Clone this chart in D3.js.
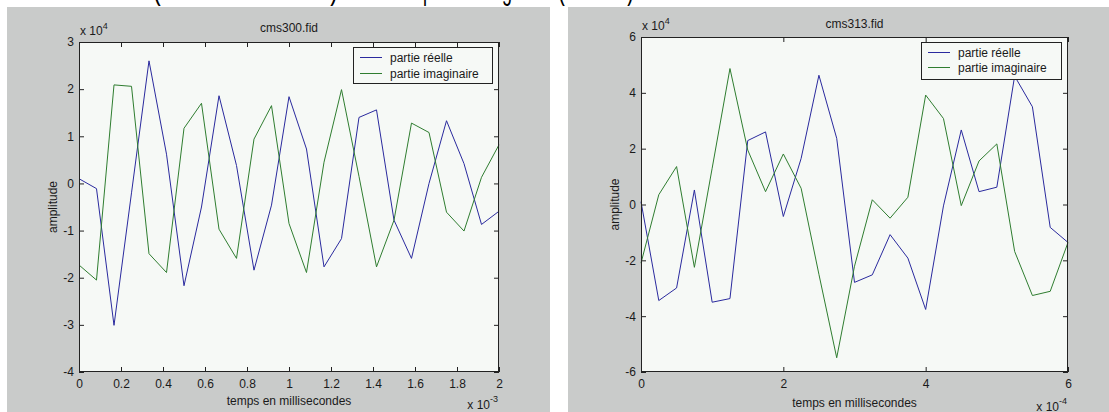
<!DOCTYPE html>
<html>
<head>
<meta charset="utf-8">
<script src="https://cdn.jsdelivr.net/npm/d3@7"></script>
<style>
  html, body { margin: 0; padding: 0; background: #ffffff; overflow: hidden; }
  svg { display: block; }
  text { font-family: "Liberation Sans", Arial, sans-serif; fill: #1a1a1a; }
</style>
</head>
<body>
<svg id="fig" width="1109" height="412"></svg>
<script>
// ---- cms300.fid : time axis in units of 1e-3 s, amplitude in units of 1e4
const timeA = [0, 0.0833, 0.1667, 0.25, 0.3333, 0.4167, 0.5, 0.5833, 0.6667, 0.75, 0.8333, 0.9167,
  1, 1.0833, 1.1667, 1.25, 1.3333, 1.4167, 1.5, 1.5833, 1.6667, 1.75, 1.8333, 1.9167, 2];
const realA = [0.10, -0.11, -3.01, -0.2, 2.60, 0.62, -2.17, -0.5, 1.86, 0.38, -1.84, -0.46,
  1.84, 0.73, -1.77, -1.17, 1.40, 1.56, -0.78, -1.59, 0.0, 1.33, 0.42, -0.87, -0.59];
const imagA = [-1.73, -2.05, 2.09, 2.06, -1.49, -1.89, 1.17, 1.70, -0.97, -1.59, 0.94, 1.65,
  -0.85, -1.89, 0.45, 1.99, 0.15, -1.77, -0.78, 1.28, 1.08, -0.61, -1.01, 0.13, 0.82];
const xTicksA = [0, 0.2, 0.4, 0.6, 0.8, 1, 1.2, 1.4, 1.6, 1.8, 2];
const yTicksA = [-4, -3, -2, -1, 0, 1, 2, 3];

// ---- cms313.fid : time axis in units of 1e-4 s, amplitude in units of 1e4
const timeB = [0, 0.25, 0.5, 0.75, 1, 1.25, 1.5, 1.75, 2, 2.25, 2.5, 2.75,
  3, 3.25, 3.5, 3.75, 4, 4.25, 4.5, 4.75, 5, 5.25, 5.5, 5.75, 6];
const realB = [0.10, -3.44, -2.99, 0.52, -3.50, -3.37, 2.29, 2.60, -0.43, 1.65, 4.63, 2.37,
  -2.79, -2.52, -1.08, -1.92, -3.76, -0.05, 2.67, 0.46, 0.62, 4.60, 3.50, -0.82, -1.36];
const imagB = [-2.10, 0.35, 1.36, -2.25, 1.30, 4.87, 1.95, 0.46, 1.81, 0.58, -2.50, -5.49,
  -2.21, 0.17, -0.49, 0.26, 3.92, 3.08, -0.04, 1.56, 2.17, -1.68, -3.26, -3.11, -1.36];
const xTicksB = [0, 2, 4, 6];
const yTicksB = [-6, -4, -2, 0, 2, 4, 6];

const legendLabels = ["partie réelle", "partie imaginaire"];
const xLabel = "temps en millisecondes";
const yLabel = "amplitude";

const COLORS = { real: "#2a2a9e", imag: "#2f7d30", bg: "#c9cbca", plot: "#f6f9f6", frame: "#222" };

const svg = d3.select("#fig");

// caption line above the figures; only its descenders fall inside the page
const capParts = [
  { t: "(trait continu bleu)", x: 153, len: 185 },
  { t: "et la", x: 372, len: 40 },
  { t: "partie imaginaire", x: 423, len: 133 },
  { t: "(en vert)", x: 558, len: 76 }
];
const cap = svg.append("g").attr("class", "caption")
  .attr("transform", "translate(0,-1) scale(1,1.75)");
capParts.forEach(s => {
  cap.append("text").attr("x", s.x).attr("y", 0).text(s.t)
    .style("font-size", "18px").style("fill", "#000")
    .attr("textLength", s.len).attr("lengthAdjust", "spacingAndGlyphs");
});

function panel(cfg) {
  const g = svg.append("g");
  g.append("rect").attr("x", cfg.bg[0]).attr("y", cfg.bg[1])
    .attr("width", cfg.bg[2]).attr("height", cfg.bg[3]).attr("fill", COLORS.bg);

  const x = d3.scaleLinear().domain(cfg.xDomain).range([cfg.box.l, cfg.box.r]);
  const y = d3.scaleLinear().domain(cfg.yDomain).range([cfg.box.b, cfg.box.t]);

  g.append("rect").attr("x", cfg.box.l).attr("y", cfg.box.t)
    .attr("width", cfg.box.r - cfg.box.l).attr("height", cfg.box.b - cfg.box.t)
    .attr("fill", COLORS.plot);

  const fmt = d => String(d);
  const axB = g.append("g").attr("transform", `translate(0,${cfg.box.b})`)
    .call(d3.axisBottom(x).tickValues(cfg.xTicks).tickFormat(fmt).tickSizeInner(-5).tickSizeOuter(0).tickPadding(7));
  const axT = g.append("g").attr("transform", `translate(0,${cfg.box.t})`)
    .call(d3.axisTop(x).tickValues(cfg.xTicks).tickFormat("").tickSizeInner(-5).tickSizeOuter(0));
  const axL = g.append("g").attr("transform", `translate(${cfg.box.l},0)`)
    .call(d3.axisLeft(y).tickValues(cfg.yTicks).tickFormat(fmt).tickSizeInner(-5).tickSizeOuter(0).tickPadding(5));
  const axR = g.append("g").attr("transform", `translate(${cfg.box.r},0)`)
    .call(d3.axisRight(y).tickValues(cfg.yTicks).tickFormat("").tickSizeInner(-5).tickSizeOuter(0));
  [axB, axT, axL, axR].forEach(a => {
    a.select(".domain").remove();
    a.selectAll(".tick line").attr("stroke", COLORS.frame);
    a.selectAll(".tick text").style("font-size", "12px").style("font-family", "'Liberation Sans', Arial, sans-serif").attr("fill", "#1a1a1a");
  });

  const line = d3.line().x(d => x(d[0])).y(d => y(d[1]));
  const seriesReal = cfg.time.map((t, i) => [t, cfg.real[i]]);
  const seriesImag = cfg.time.map((t, i) => [t, cfg.imag[i]]);
  g.append("path").datum(seriesReal).attr("d", line)
    .attr("fill", "none").attr("stroke", COLORS.real).attr("stroke-width", 1);
  g.append("path").datum(seriesImag).attr("d", line)
    .attr("fill", "none").attr("stroke", COLORS.imag).attr("stroke-width", 1);

  // axes box
  g.append("rect").attr("x", cfg.box.l + 0.5).attr("y", cfg.box.t + 0.5)
    .attr("width", cfg.box.r - cfg.box.l - 1).attr("height", cfg.box.b - cfg.box.t - 1)
    .attr("fill", "none").attr("stroke", COLORS.frame).attr("stroke-width", 1);

  // legend
  const L = cfg.legend;
  const lg = g.append("g");
  lg.append("rect").attr("x", L.x + 0.5).attr("y", L.y + 0.5).attr("width", L.w).attr("height", L.h)
    .attr("fill", COLORS.plot).attr("stroke", COLORS.frame);
  [COLORS.real, COLORS.imag].forEach((c, i) => {
    const ly = L.y + 10.5 + i * L.gap;
    lg.append("line").attr("x1", L.x + 7).attr("x2", L.x + 29).attr("y1", ly).attr("y2", ly)
      .attr("stroke", c).attr("stroke-width", 1);
    lg.append("text").attr("x", L.x + 37).attr("y", ly + 4).style("font-size", "12px")
      .text(legendLabels[i]);
  });

  const cx = (cfg.box.l + cfg.box.r) / 2;
  const cy = (cfg.box.t + cfg.box.b) / 2;
  g.append("text").attr("x", cx).attr("y", cfg.titleY).attr("text-anchor", "middle")
    .style("font-size", "12px").text(cfg.title);
  g.append("text").attr("x", cx).attr("y", cfg.xLabelY).attr("text-anchor", "middle")
    .style("font-size", "12px").text(xLabel);
  g.append("text").attr("transform", `translate(${cfg.yLabelX},${cy}) rotate(-90)`)
    .attr("text-anchor", "middle").style("font-size", "12px").text(yLabel);

  // exponent notes
  const e1 = g.append("text").attr("x", cfg.box.l + 1).attr("y", cfg.expTopY).style("font-size", "12px");
  e1.append("tspan").text("x 10");
  e1.append("tspan").attr("dy", -6).style("font-size", "9px").text(cfg.expY);
  const e2 = g.append("text").attr("x", cfg.box.r - 1).attr("y", cfg.expBotY).attr("text-anchor", "end").style("font-size", "12px");
  e2.append("tspan").text("x 10");
  e2.append("tspan").attr("dy", -7).style("font-size", "9px").text(cfg.expX);
}

panel({
  bg: [7, 7, 543, 405],
  box: { l: 79, r: 499, t: 42, b: 372 },
  xDomain: [0, 2], yDomain: [-4, 3],
  xTicks: xTicksA, yTicks: yTicksA,
  time: timeA, real: realA, imag: imagA,
  legend: { x: 353, y: 47, w: 139, h: 36, gap: 16 },
  title: "cms300.fid", titleY: 32, xLabelY: 405, yLabelX: 57,
  expTopY: 35, expBotY: 409, expY: "4", expX: "-3"
});

panel({
  bg: [568, 7, 541, 405],
  box: { l: 641, r: 1068, t: 37, b: 372 },
  xDomain: [0, 6], yDomain: [-6, 6],
  xTicks: xTicksB, yTicks: yTicksB,
  time: timeB, real: realB, imag: imagB,
  legend: { x: 921, y: 42, w: 140, h: 37, gap: 15 },
  title: "cms313.fid", titleY: 28, xLabelY: 407, yLabelX: 619,
  expTopY: 30, expBotY: 411, expY: "4", expX: "-4"
});
</script>
</body>
</html>
